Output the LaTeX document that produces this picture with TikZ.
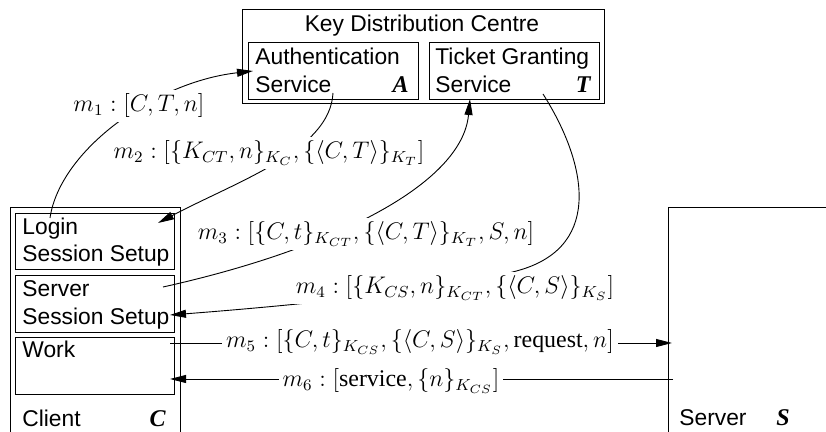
\documentclass[tikz,border=0pt]{standalone}
\usepackage{fontspec}
\setmainfont{Liberation Serif}
\setsansfont{Liberation Sans}
\usetikzlibrary{arrows.meta}
\begin{document}
\begin{tikzpicture}[x=0.5pt,y=-0.5pt,
  font=\fontsize{11.4}{13.7}\selectfont\sffamily,
  box/.style={draw, line width=0.6pt, inner sep=0pt, anchor=north west},
  txt/.style={inner sep=0pt, anchor=base west},
  idt/.style={inner sep=0pt, anchor=base east, font=\fontsize{12}{14}\selectfont\rmfamily\bfseries\itshape},
  msg/.style={fill=white, inner sep=2pt, font=\fontsize{11.95}{14}\selectfont\rmfamily},
  conn/.style={line width=0.45pt, -{Triangle[length=8pt,width=4pt]}},
]
\useasboundingbox (0,0) rectangle (826,432);
\clip (0,0) rectangle (826,432);
% boxes
\node[box, minimum width=181pt, minimum height=47pt] (kdc) at (242,9) {};
\node[box, minimum width=85pt, minimum height=28.5pt] (as) at (248,42) {};
\node[box, minimum width=85pt, minimum height=28.5pt] (tgs) at (429,42) {};
\node[box, minimum width=85pt, minimum height=125pt] (client) at (10,207) {};
\node[box, minimum width=79.5pt, minimum height=28pt] (login) at (15,213) {};
\node[box, minimum width=79.5pt, minimum height=28.5pt] (srvsess) at (15,275) {};
\node[box, minimum width=79.5pt, minimum height=28.5pt] (work) at (15,337) {};
\node[box, minimum width=100pt, minimum height=125pt] (server) at (668,207) {};
% texts
\node[txt, anchor=base] (kdct) at (422,32) {Key Distribution Centre};
\node[txt] (ast1) at (255,65) {Authentication};
\node[txt] (ast2) at (255,93) {Service};
\node[idt] (asid) at (409,93) {A};
\node[txt] (tgt1) at (435,65) {Ticket Granting};
\node[txt] (tgt2) at (435,93) {Service};
\node[idt] (tgid) at (591,93) {T};
\node[txt] (lg1) at (22,235) {Login};
\node[txt] (lg2) at (22,262) {Session Setup};
\node[txt] (ss1) at (22,297) {Server};
\node[txt] (ss2) at (22,325) {Session Setup};
\node[txt] (wk) at (22,358) {Work};
\node[txt] (cl) at (22,427) {Client};
\node[idt] (clid) at (166,427) {C};
\node[txt] (sv) at (679,426) {Server};
\node[idt] (svid) at (790,426) {S};
% connector ends
\coordinate (m1s) at (50,218);  \coordinate (m1e) at (253,71);
\coordinate (m2s) at (333,93);  \coordinate (m2e) at (158,223);
\coordinate (m3s) at (163,287); \coordinate (m3e) at (470,99);
\coordinate (m4s) at (543,94);  \coordinate (m4m) at (520,270); \coordinate (m4e) at (170,315);
\coordinate (m5s) at (170,343); \coordinate (m5e) at (672,343);
\coordinate (m6s) at (673,379); \coordinate (m6e) at (170,379);
% connectors
\draw[conn] (m1s) .. controls (60,150) and (155,82) .. (m1e);
\draw[conn] (m2s) .. controls (330,150) and (240,180) .. (m2e);
\draw[conn] (m3s) .. controls (330,250) and (462,185) .. (m3e);
\draw[conn] (m4s) .. controls (585,160) and (605,245) .. (m4m) .. controls (450,290) and (300,305) .. (m4e);
\draw[conn] (m5s) -- (m5e);
\draw[conn] (m6s) -- (m6e);
% message labels
\node[msg] (l1) at (139,106) {$m_1 : [C, T, n]$};
\node[msg] (l2) at (269,153) {$m_2 : [\{K_{CT}, n\}_{K_C}, \{\langle C, T\rangle\}_{K_T}]$};
\node[msg] (l3) at (366,234) {$m_3 : [\{C, t\}_{K_{CT}}, \{\langle C, T\rangle\}_{K_T}, S, n]$};
\node[msg] (l4) at (455,288) {$m_4 : [\{K_{CS}, n\}_{K_{CT}}, \{\langle C, S\rangle\}_{K_S}]$};
\node[msg] (l5) at (420,342) {$m_5 : [\{C, t\}_{K_{CS}}, \{\langle C, S\rangle\}_{K_S}, \textrm{request}, n]$};
\node[msg] (l6) at (391,381) {$m_6 : [\textrm{service}, \{n\}_{K_{CS}}]$};
\end{tikzpicture}
\end{document}
